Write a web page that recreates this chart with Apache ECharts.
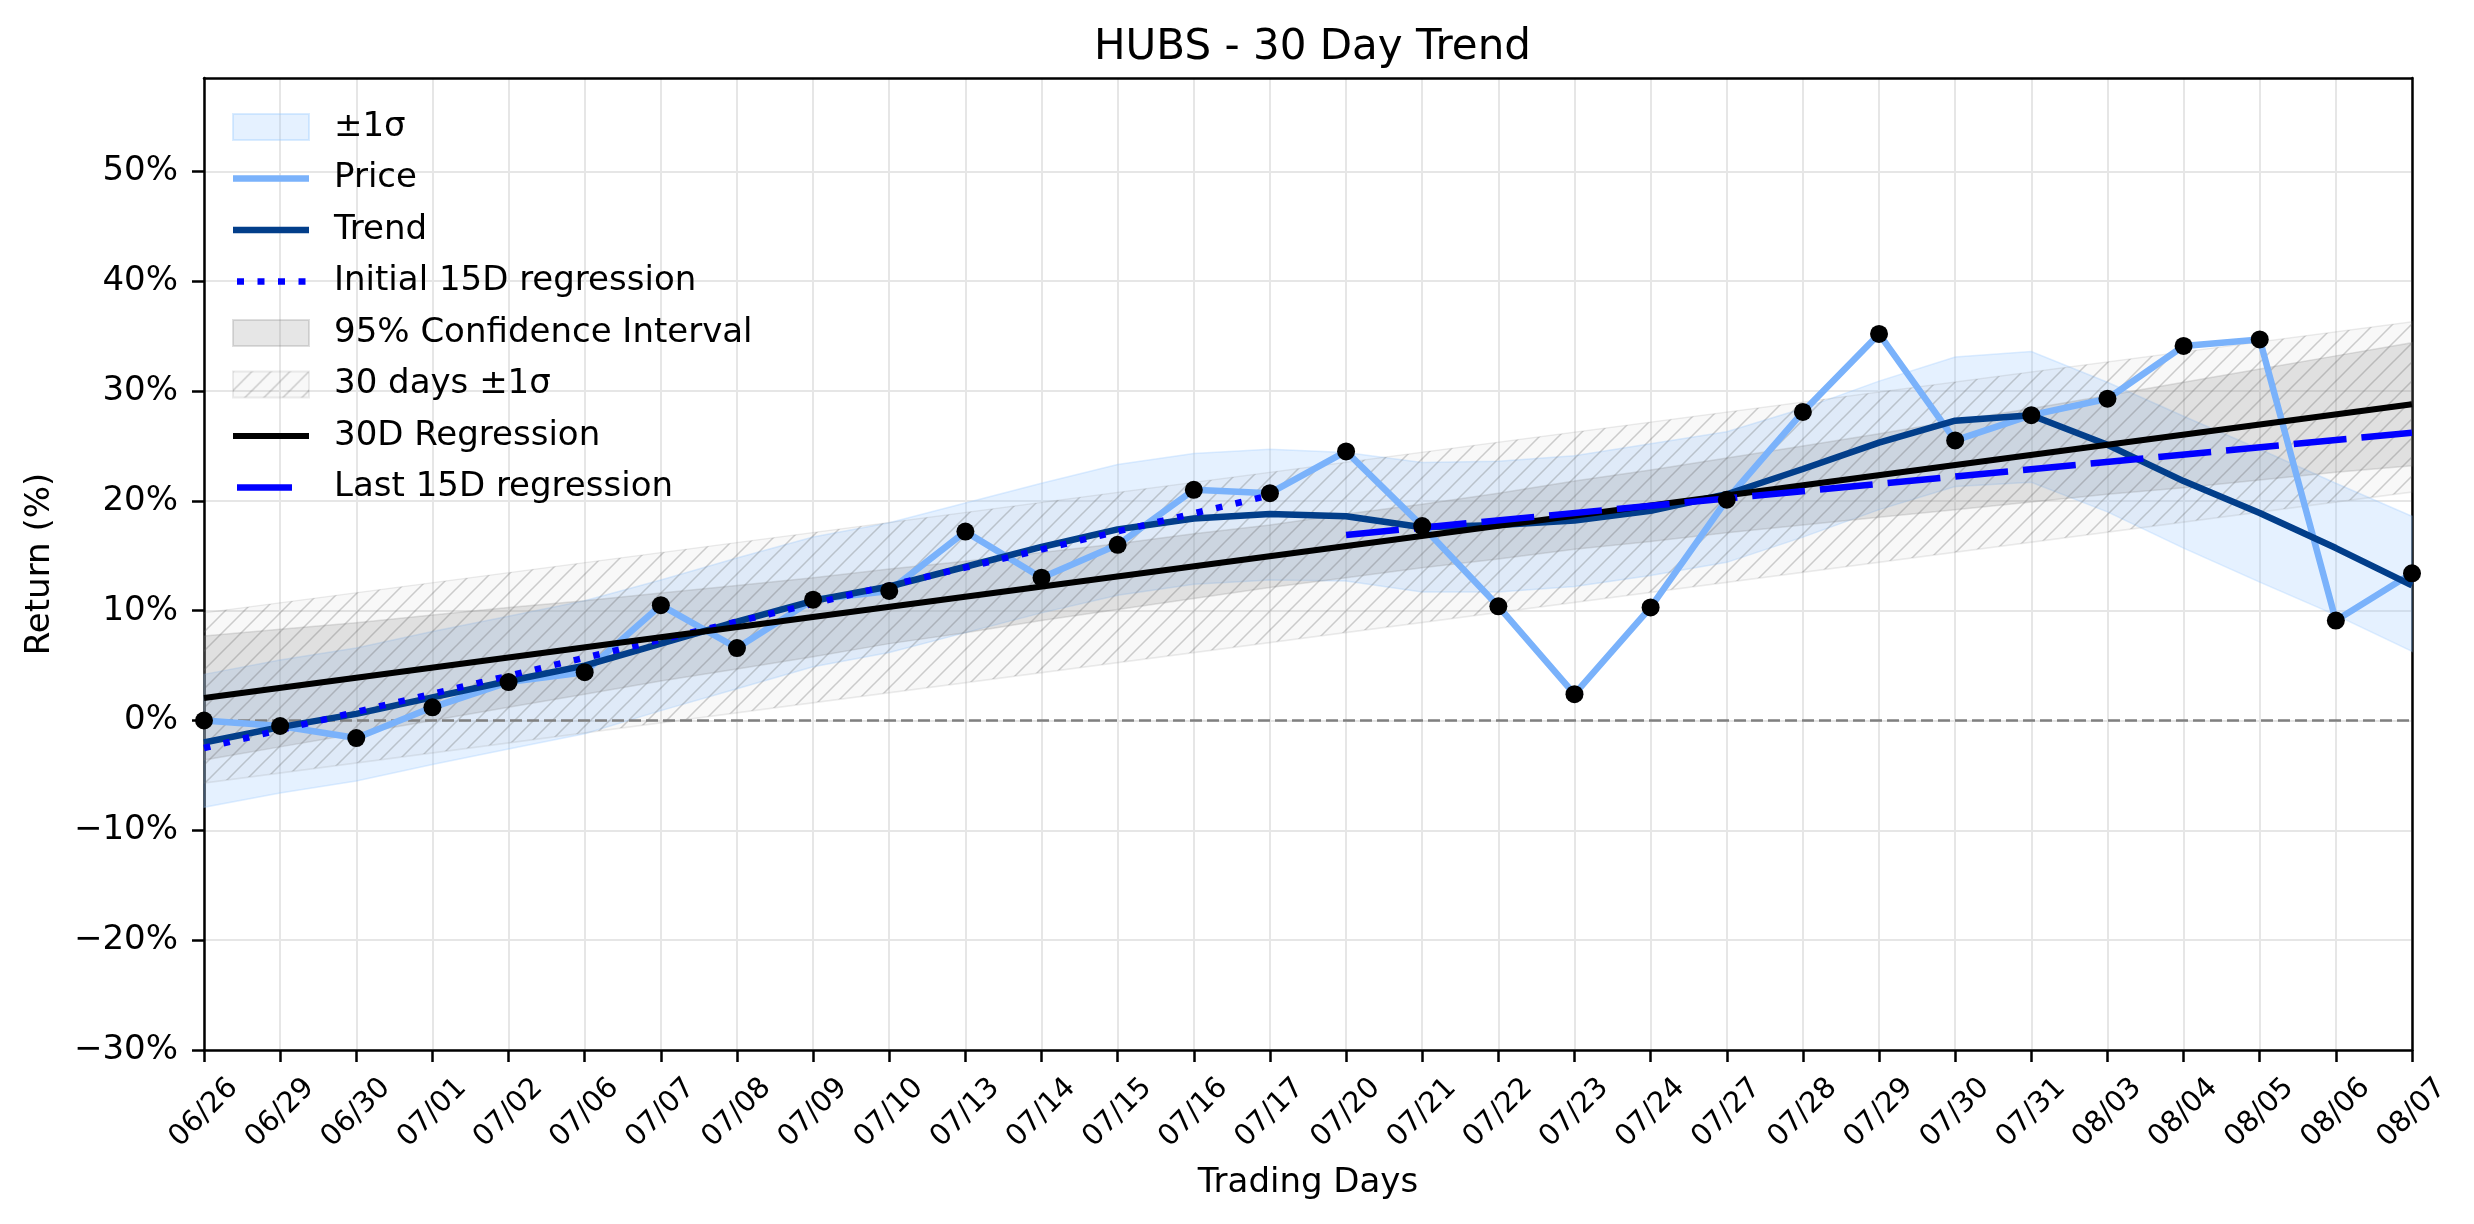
<!DOCTYPE html>
<html style="height: 100%">
<head>
  <meta charset="utf-8">
  <title>HUBS - 30 Day Trend</title>
</head>
<body style="height: 100%; margin: 0">
<div id="container" style="width: 2474px; height: 1224px"></div>
<script src="https://cdn.jsdelivr.net/npm/echarts@6/dist/echarts.min.js"></script>
<script>
  // trading days, x position = index
  var dates = ['06/26', '06/29', '06/30', '07/01', '07/02', '07/06', '07/07', '07/08', '07/09', '07/10',
    '07/13', '07/14', '07/15', '07/16', '07/17', '07/20', '07/21', '07/22', '07/23', '07/24',
    '07/27', '07/28', '07/29', '07/30', '07/31', '08/03', '08/04', '08/05', '08/06', '08/07'];

  // return in %
  var price = [0.0, -0.5, -1.6, 1.2, 3.5, 4.4, 10.5, 6.6, 11.0, 11.8,
    17.2, 13.0, 16.0, 21.0, 20.7, 24.5, 17.7, 10.4, 2.4, 10.3,
    20.1, 28.1, 35.2, 25.5, 27.8, 29.3, 34.1, 34.7, 9.1, 13.4];
  var trend = [-2.0, -0.6, 0.6, 2.1, 3.6, 5.0, 7.0, 9.0, 10.9, 12.2,
    14.0, 15.8, 17.4, 18.4, 18.8, 18.6, 17.6, 17.8, 18.2, 19.1,
    20.6, 22.9, 25.3, 27.3, 27.8, 25.1, 21.8, 18.9, 15.7, 12.3];
  var sigmaUpper = [4.2, 5.5, 6.6, 8.1, 9.5, 10.9, 12.8, 14.8, 16.7, 18.0,
    19.8, 21.6, 23.3, 24.3, 24.7, 24.4, 23.5, 23.6, 24.1, 25.2,
    26.3, 28.4, 30.9, 33.1, 33.6, 30.8, 27.7, 24.7, 21.6, 18.6];
  var sigmaLower = [-7.9, -6.6, -5.5, -4.0, -2.6, -1.2, 0.9, 2.9, 4.9, 6.2,
    8.0, 9.8, 11.4, 12.4, 12.8, 12.7, 11.7, 11.7, 12.2, 13.2,
    14.4, 16.7, 19.2, 21.3, 21.7, 19.0, 15.7, 12.6, 9.6, 6.3];
  var ciUpper = [7.7, 8.3, 8.9, 9.6, 10.3, 10.9, 11.6, 12.3, 13.0, 13.8,
    14.5, 15.3, 16.1, 17.0, 17.8, 18.8, 19.7, 20.7, 21.8, 22.8,
    23.9, 25.0, 26.1, 27.3, 28.4, 29.6, 30.8, 32.0, 33.2, 34.4];
  var ciLower = [-3.6, -2.4, -1.2, 0.0, 1.2, 2.4, 3.6, 4.7, 5.8, 7.0,
    8.0, 9.1, 10.1, 11.1, 12.1, 13.0, 13.9, 14.7, 15.6, 16.3,
    17.1, 17.8, 18.5, 19.2, 19.9, 20.6, 21.2, 21.9, 22.6, 23.2];

  // straight lines: [x index, value] at both ends
  var reg30 = [[0, 2.05], [29, 28.8]];
  var regFirst15 = [[0, -2.5], [14, 20.5]];
  var regLast15 = [[15, 16.9], [29, 26.2]];
  var hatchX = [0, 29];
  var hatchUpper = [9.8, 36.3];
  var hatchLower = [-5.7, 20.8];

  var yTicks = [-30, -20, -10, 0, 10, 20, 30, 40, 50];

  var FONT = 'DejaVu Sans';

  // diagonal hatch for the 30 days band
  var hatchCanvas = document.createElement('canvas');
  hatchCanvas.width = 19;
  hatchCanvas.height = 19;
  (function () {
    var c = hatchCanvas.getContext('2d');
    c.fillStyle = 'rgba(128,128,128,0.06)';
    c.fillRect(0, 0, 19, 19);
    c.strokeStyle = 'rgba(100,100,100,0.3)';
    c.lineWidth = 1.5;
    c.beginPath();
    c.moveTo(-2, 21); c.lineTo(21, -2);
    c.moveTo(-2, 2); c.lineTo(2, -2);
    c.moveTo(17, 21); c.lineTo(21, 17);
    c.stroke();
  })();
  var hatchFill = {image: hatchCanvas, repeat: 'repeat'};

  // legend handle for a line, drawn as a small svg
  function lineIcon(color, width, x1, x2, dash) {
    var svg = "<svg xmlns='http://www.w3.org/2000/svg' width='76' height='26'>" +
      "<line x1='" + x1 + "' y1='13' x2='" + x2 + "' y2='13' stroke='" + color +
      "' stroke-width='" + width + "'" + (dash ? " stroke-dasharray='" + dash + "'" : '') + "/></svg>";
    return 'image://data:image/svg+xml;charset=utf-8,' + encodeURIComponent(svg);
  }

  function bandSeries(name, xs, lower, upper, style, z) {
    return {
      name: name,
      type: 'custom',
      z: z,
      silent: true,
      data: xs.map(function (x, i) { return [x, lower[i], upper[i]]; }),
      encode: {x: 0, y: [1, 2]},
      renderItem: function (params, api) {
        if (params.dataIndex !== 0) return;
        var pts = [];
        for (var i = 0; i < xs.length; i++) pts.push(api.coord([xs[i], upper[i]]));
        for (var j = xs.length - 1; j >= 0; j--) pts.push(api.coord([xs[j], lower[j]]));
        return {type: 'polygon', shape: {points: pts}, style: style};
      }
    };
  }

  var idx = dates.map(function (d, i) { return i; });
  function pairs(vals) {
    return vals.map(function (v, i) { return [idx[i], v]; });
  }

  var spine = {show: true, onZero: false, lineStyle: {color: '#000', width: 2.5}};

  var dom = document.getElementById('container');
  var myChart = echarts.init(dom);
  var option = {
    animation: false,
    backgroundColor: '#fff',
    textStyle: {fontFamily: FONT},
    title: {
      text: 'HUBS - 30 Day Trend',
      left: 1094,
      top: 27,
      padding: 0,
      textStyle: {fontFamily: FONT, fontSize: 42, fontWeight: 'normal', color: '#000'}
    },
    legend: {
      orient: 'vertical',
      left: 232,
      top: 110,
      padding: 0,
      itemWidth: 76,
      itemHeight: 26,
      itemGap: 17.5,
      selectedMode: false,
      textStyle: {fontFamily: FONT, fontSize: 34, color: '#000', padding: [0, 0, 0, 20]},
      data: [
        {name: '±1σ', icon: 'rect', itemStyle: {color: 'rgba(150,200,255,0.25)', borderColor: 'rgba(150,200,255,0.35)', borderWidth: 2}},
        {name: 'Price', icon: lineIcon('#7ab2fb', 6.5, 0, 76)},
        {name: 'Trend', icon: lineIcon('#023e8a', 6.5, 0, 76)},
        {name: 'Initial 15D regression', icon: lineIcon('#0000ff', 6.5, 4, 76, '7 13.5')},
        {name: '95% Confidence Interval', icon: 'rect', itemStyle: {color: 'rgba(128,128,128,0.2)', borderColor: 'rgba(128,128,128,0.25)', borderWidth: 2}},
        {name: '30 days ±1σ', icon: 'rect', itemStyle: {color: hatchFill, borderColor: 'rgba(128,128,128,0.15)', borderWidth: 2}},
        {name: '30D Regression', icon: lineIcon('#000000', 6, 0, 76)},
        {name: 'Last 15D regression', icon: lineIcon('#0000ff', 6.5, 4, 59)}
      ]
    },
    grid: {
      left: 204,
      right: 62,
      top: 78,
      bottom: 174,
      outerBoundsMode: 'none'
    },
    xAxis: [{
      type: 'value',
      min: 0,
      max: 29,
      interval: 1,
      name: 'Trading Days',
      nameLocation: 'middle',
      nameGap: 116,
      nameTextStyle: {fontFamily: FONT, fontSize: 34, color: '#000'},
      axisLine: spine,
      axisTick: {length: 12, lineStyle: {color: '#000', width: 2.5}},
      axisLabel: {
        rotate: 45,
        align: 'center',
        verticalAlign: 'middle',
        margin: 63,
        fontSize: 29,
        color: '#000',
        fontFamily: FONT,
        formatter: function (v) { return dates[v] || ''; }
      },
      splitLine: {show: true, lineStyle: {color: '#e6e6e6', width: 2}}
    }, {
      // top spine only
      type: 'value', position: 'top', min: 0, max: 29,
      axisLine: spine, axisTick: {show: false}, axisLabel: {show: false}, splitLine: {show: false}
    }],
    yAxis: [{
      type: 'value',
      min: -30,
      max: 58.5,
      interval: 10,
      name: 'Return (%)',
      nameLocation: 'middle',
      nameGap: 147,
      nameTextStyle: {fontFamily: FONT, fontSize: 34, color: '#000'},
      axisLine: spine,
      axisTick: {length: 12, customValues: yTicks, lineStyle: {color: '#000', width: 2.5}},
      axisLabel: {
        margin: 26,
        fontSize: 34,
        color: '#000',
        fontFamily: FONT,
        customValues: yTicks,
        formatter: function (v) {
          if (v % 10 !== 0) return '';
          return (v < 0 ? '\u2212' : '') + Math.abs(v) + '%';
        }
      },
      splitLine: {show: true, lineStyle: {color: '#e6e6e6', width: 2}}
    }, {
      // right spine only
      type: 'value', position: 'right', min: -30, max: 58.5,
      axisLine: spine, axisTick: {show: false}, axisLabel: {show: false}, splitLine: {show: false}
    }],
    series: [
      bandSeries('±1σ', idx, sigmaLower, sigmaUpper,
        {fill: 'rgba(150,200,255,0.25)', stroke: 'rgba(150,200,255,0.3)', lineWidth: 1.5}, 1),
      {
        name: 'Price', type: 'line', z: 3, symbol: 'none', data: pairs(price),
        lineStyle: {color: '#7ab2fb', width: 6.5}, itemStyle: {color: '#7ab2fb'}
      },
      {
        name: 'Trend', type: 'line', z: 3, symbol: 'none', data: pairs(trend),
        lineStyle: {color: '#023e8a', width: 6.5}, itemStyle: {color: '#023e8a'}
      },
      {
        name: 'Initial 15D regression', type: 'line', z: 3, symbol: 'none', data: regFirst15,
        lineStyle: {color: '#0000ff', width: 6.5, type: [6.5, 13.5]}, itemStyle: {color: '#0000ff'}
      },
      bandSeries('95% Confidence Interval', idx, ciLower, ciUpper,
        {fill: 'rgba(128,128,128,0.2)', stroke: 'rgba(128,128,128,0.22)', lineWidth: 1.5}, 1),
      bandSeries('30 days ±1σ', hatchX, hatchLower, hatchUpper,
        {fill: hatchFill, stroke: 'rgba(128,128,128,0.15)', lineWidth: 1.5}, 1),
      {
        name: '30D Regression', type: 'line', z: 4, symbol: 'none', data: reg30,
        lineStyle: {color: '#000', width: 6}, itemStyle: {color: '#000'}
      },
      {
        name: 'Last 15D regression', type: 'line', z: 4, symbol: 'none', data: regLast15,
        lineStyle: {color: '#0000ff', width: 6.5, type: [53, 15]}, itemStyle: {color: '#0000ff'}
      },
      {
        name: 'zero', type: 'line', z: 2, symbol: 'none', silent: true, data: [[0, 0], [29, 0]],
        lineStyle: {color: '#808080', width: 2.5, type: [12, 5]}
      },
      {
        name: 'points', type: 'scatter', z: 5, symbolSize: 18, silent: true, data: pairs(price),
        itemStyle: {color: '#000', opacity: 1}
      }
    ]
  };
  myChart.setOption(option);
</script>
</body>
</html>
